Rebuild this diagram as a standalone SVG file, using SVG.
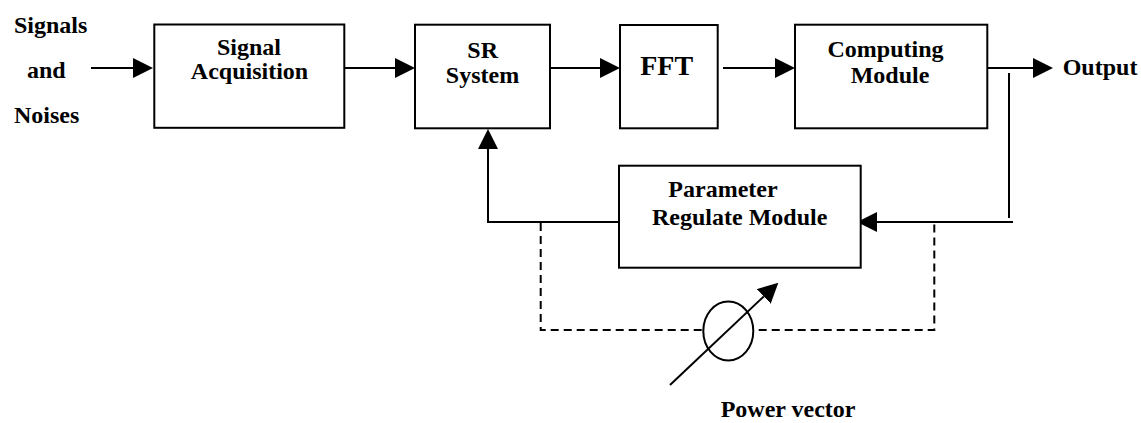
<svg xmlns="http://www.w3.org/2000/svg" width="1141" height="423" viewBox="0 0 1141 423">
<style>
.box{fill:#fff;stroke:#000;stroke-width:2}
.ln{fill:none;stroke:#000;stroke-width:2}
.dash{fill:none;stroke:#000;stroke-width:2;stroke-dasharray:8 5}
.t{font-family:"Liberation Serif","Times New Roman",serif;font-weight:bold;font-size:24px;fill:#000}
.m{text-anchor:middle}
</style>
<defs>
<marker id="ah" markerUnits="userSpaceOnUse" markerWidth="20" markerHeight="20" refX="0" refY="10" orient="auto" viewBox="0 0 20 20">
<path d="M0,0 L20,10 L0,20 z" fill="#000"/>
</marker>
</defs>
<rect width="1141" height="423" fill="#fff"/>
<g id="connectors">
<line class="ln" x1="91" y1="68" x2="133" y2="68" marker-end="url(#ah)"/>
<line class="ln" x1="344" y1="68" x2="395" y2="68" marker-end="url(#ah)"/>
<line class="ln" x1="550" y1="68" x2="600" y2="68" marker-end="url(#ah)"/>
<line class="ln" x1="723" y1="68" x2="775" y2="68" marker-end="url(#ah)"/>
<line class="ln" x1="984" y1="68" x2="1033" y2="68" marker-end="url(#ah)"/>
<line class="ln" x1="1009" y1="73" x2="1009" y2="218"/>
<line class="ln" x1="1013" y1="222" x2="877" y2="222" marker-end="url(#ah)"/>
<polyline class="ln" points="619,222 488,222 488,149" marker-end="url(#ah)"/>
<path class="dash" d="M540.7,223 V330 H934.3 V223"/>
</g>
<g id="power">
<ellipse cx="728.3" cy="331" rx="25" ry="29.5" fill="#fff" stroke="#000" stroke-width="2"/>
<line class="ln" x1="670" y1="385" x2="763.8" y2="296.4" marker-end="url(#ah)"/>
<text class="t" x="720.7" y="417">Power vector</text>
</g>
<g id="input">
<text class="t" x="14" y="33">Signals</text>
<text class="t" x="27" y="78">and</text>
<text class="t" x="14" y="123">Noises</text>
</g>
<g id="signal-acquisition">
<rect class="box" x="154.3" y="24.5" width="190" height="103.3"/>
<text class="t m" x="249" y="55">Signal</text>
<text class="t m" x="249.5" y="79">Acquisition</text>
</g>
<g id="sr-system">
<rect class="box" x="415" y="24.7" width="135" height="103.6"/>
<text class="t m" x="482.7" y="58">SR</text>
<text class="t m" x="482.5" y="83">System</text>
</g>
<g id="fft">
<rect class="box" x="620" y="25" width="97.7" height="103.3"/>
<text class="t m" x="666.7" y="75" style="font-size:28px">FFT</text>
</g>
<g id="computing">
<rect class="box" x="795" y="24.7" width="192.3" height="103.6"/>
<text class="t m" x="885.5" y="57">Computing</text>
<text class="t m" x="890" y="83">Module</text>
</g>
<g id="output">
<text class="t" x="1062.7" y="75">Output</text>
</g>
<g id="parameter-regulate">
<rect class="box" x="619" y="165.7" width="241.7" height="102"/>
<text class="t m" x="723" y="197">Parameter</text>
<text class="t m" x="739.7" y="225">Regulate Module</text>
</g>
</svg>
